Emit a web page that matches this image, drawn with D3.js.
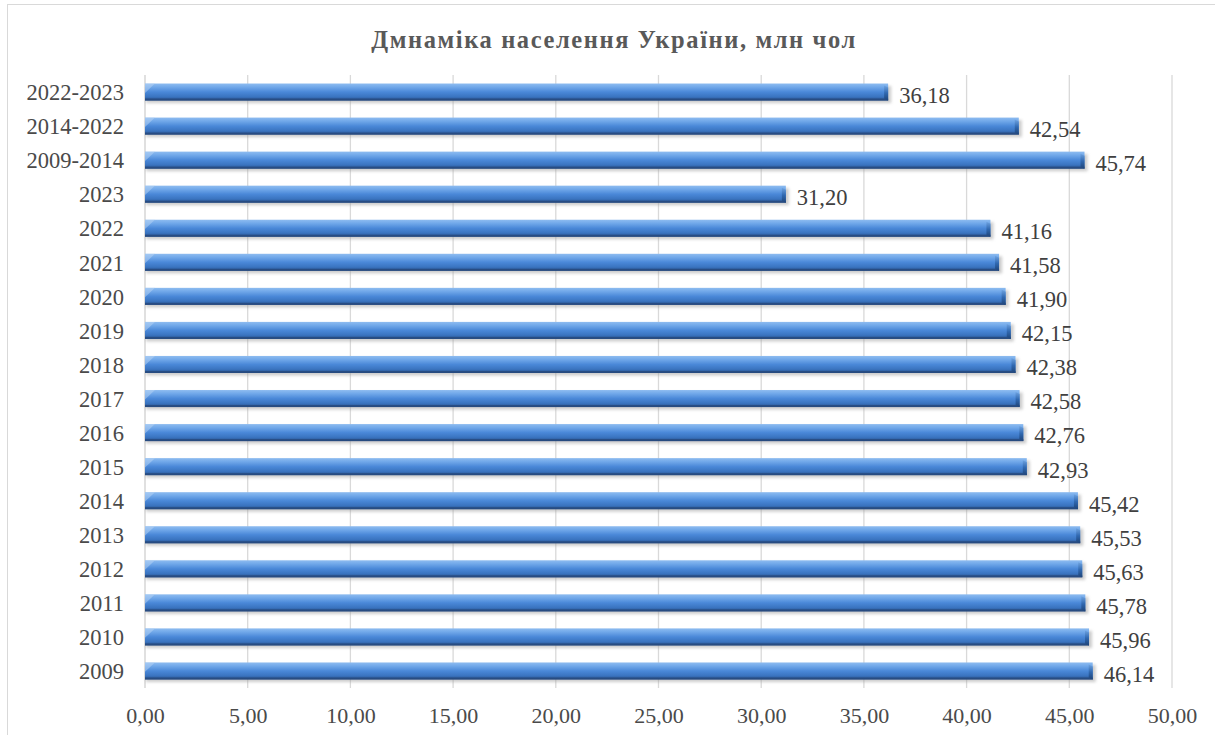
<!DOCTYPE html>
<html><head><meta charset="utf-8">
<script src="https://cdn.jsdelivr.net/npm/d3@7"></script>
<style>
body{margin:0;background:#fff;}
svg{display:block;}
</style></head>
<body>
<svg id="chart" width="1215" height="735"></svg>
<script>
const categories = ["2022-2023","2014-2022","2009-2014","2023","2022","2021","2020","2019","2018","2017","2016","2015","2014","2013","2012","2011","2010","2009"];
const values = [36.18,42.54,45.74,31.20,41.16,41.58,41.90,42.15,42.38,42.58,42.76,42.93,45.42,45.53,45.63,45.78,45.96,46.14];
const tickValues = [0,5,10,15,20,25,30,35,40,45,50];
const title = "Дмнаміка населення України, млн чол";

const FONT = "'Liberation Serif','Times New Roman',serif";
const svg = d3.select("#chart");
const fmt = v => v.toFixed(2).replace(".", ",");

// frame
svg.append("rect").attr("x",7.5).attr("y",4.5).attr("width",1220).attr("height",740)
  .attr("fill","#fff").attr("stroke","#d9d9d9").attr("stroke-width",1);

const x = d3.scaleLinear().domain([0,50]).range([145,1172]);
const y = d3.scaleBand().domain(categories).range([75,688]).paddingInner(0.5).paddingOuter(0.25);

const defs = svg.append("defs");
const g1 = defs.append("linearGradient").attr("id","barGrad").attr("x1",0).attr("y1",0).attr("x2",0).attr("y2",1);
[[0,"#8ebcf0"],[0.2,"#72a9ea"],[0.5,"#4a88d8"],[0.78,"#3a74c0"],[1,"#28508a"]].forEach(s=>g1.append("stop").attr("offset",s[0]).attr("stop-color",s[1]));
const g2 = defs.append("linearGradient").attr("id","capGrad").attr("x1",0).attr("y1",0).attr("x2",0).attr("y2",1);
[[0,"#6fa3e0"],[0.5,"#3068b0"],[1,"#1e4478"]].forEach(s=>g2.append("stop").attr("offset",s[0]).attr("stop-color",s[1]));
const flt = defs.append("filter").attr("id","shadow").attr("x","-5%").attr("y","-50%").attr("width","110%").attr("height","200%");
flt.append("feGaussianBlur").attr("stdDeviation",1.5);

// gridlines
svg.append("g").selectAll("line").data(tickValues).join("line")
  .attr("x1",d=>x(d)).attr("x2",d=>x(d)).attr("y1",75).attr("y2",688)
  .attr("stroke",d=>d===0?"#d0d0d0":"#d9d9d9").attr("stroke-width",1.3);

// axis labels
const xAxis = d3.axisBottom(x).tickValues(tickValues).tickFormat(fmt).tickSize(0).tickPadding(0);
const ax = svg.append("g").attr("transform","translate(0,707)").call(xAxis);
ax.select(".domain").remove();
ax.attr("font-family",null).attr("font-size",null);
ax.selectAll("text").attr("fill","#4a4a4a").attr("dy","0.72em")
  .style("font-family",FONT).style("font-size","22px");

const yAxis = d3.axisLeft(y).tickSize(0).tickPadding(0);
const ay = svg.append("g").attr("transform","translate(124,1)").call(yAxis);
ay.select(".domain").remove();
ay.attr("font-family",null).attr("font-size",null);
ay.selectAll("text").attr("fill","#4a4a4a")
  .style("font-family",FONT).style("font-size","22.5px");

const bh = y.bandwidth();
const data = categories.map((c,i)=>({c, v: values[i]}));
const bars = svg.append("g").selectAll("g").data(data).join("g");
// shadow
bars.append("rect").attr("x",d=>x(0)+1).attr("y",d=>y(d.c)+2.5)
  .attr("width",d=>x(d.v)-x(0)+2).attr("height",bh)
  .attr("fill","#9a9a9a").attr("opacity",0.5).attr("filter","url(#shadow)");
// bar body
bars.append("rect").attr("x",x(0)).attr("y",d=>y(d.c))
  .attr("width",d=>x(d.v)-x(0)).attr("height",bh).attr("fill","url(#barGrad)");
// left bevel
bars.append("path").attr("d",d=>{const y0=y(d.c),x0=x(0);return `M${x0},${y0}L${x0+10},${y0}L${x0},${y0+bh*0.55}Z`;})
  .attr("fill","#b9d6f5").attr("opacity",0.5);
// bottom dark edge
bars.append("rect").attr("x",x(0)).attr("y",d=>y(d.c)+bh-2)
  .attr("width",d=>x(d.v)-x(0)).attr("height",2).attr("fill","#27497c").attr("opacity",0.8);
// right cap
bars.append("path").attr("d",d=>{const y0=y(d.c),x1=x(d.v);return `M${x1-4},${y0+2}L${x1},${y0+4}L${x1},${y0+bh}L${x1-4},${y0+bh-2}Z`;})
  .attr("fill","url(#capGrad)");

// value labels
svg.append("g").selectAll("text").data(data).join("text")
  .attr("x",d=>x(d.v)+11).attr("y",d=>y(d.c)+bh/2+3).attr("dy","0.35em")
  .style("font-family",FONT).style("font-size","22.5px").attr("fill","#404040").text(d=>fmt(d.v));

// title
svg.append("text").attr("x",614).attr("y",48).attr("text-anchor","middle")
  .style("font-family",FONT).style("font-size","24.5px").style("font-weight","bold").style("letter-spacing","1.6px")
  .attr("fill","#595959").text(title);
</script>
</body></html>
